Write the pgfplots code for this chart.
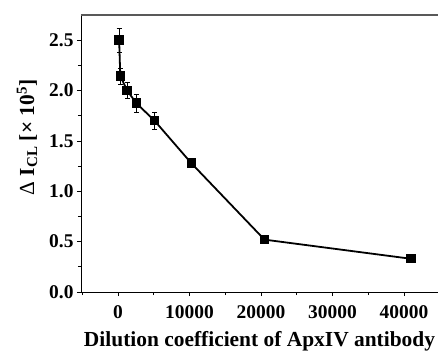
\documentclass[border=0pt]{standalone}
\usepackage{pgfplots}
\pgfplotsset{compat=1.18}
\usepackage{fontspec}
\setmainfont{Liberation Serif}
\begin{document}
\begin{tikzpicture}
\begin{axis}[
  name=ax,
  scale only axis, width=357bp, height=277bp,
  xmin=-5175, xmax=44755, ymin=0, ymax=2.75,
  axis x line=box, axis y line=left,
  axis line style={-, line width=0.8pt},
  xtick={0,10000,20000,30000,40000},
  minor xtick={-5000,5000,15000,25000,35000},
  ytick={0,0.5,1,1.5,2,2.5},
  minor ytick={0.25,0.75,1.25,1.75,2.25},
  xtick pos=bottom, ytick pos=left,
  tick align=outside,
  major tick length=4bp, minor tick length=3bp,
  every tick/.style={black, line width=0.7pt},
  scaled x ticks=false,
  x tick label style={/pgf/number format/1000 sep={}, /pgf/number format/fixed, yshift=-6bp},
  y tick label style={/pgf/number format/fixed, /pgf/number format/fixed zerofill, /pgf/number format/precision=1, xshift=0bp},
  /pgf/number format/assume math mode=true,
  ticklabel style={font=\fontsize{19.5}{21}\selectfont\bfseries},
  xlabel={\fontsize{21.5}{23}\selectfont\bfseries Dilution coefficient of ApxIV antibody},
  xlabel style={yshift=-5.5bp},
  ylabel={\fontsize{21.5}{23}\selectfont Δ \bfseries I\textsubscript{CL} [× 10\textsuperscript{5}]},
  ylabel style={yshift=5bp, xshift=16bp},
  clip=false,
]
\draw[gray!70!black, line width=1.6pt] (rel axis cs:0,1) -- (rel axis cs:1,1);
\addplot[black, line width=1.8pt, mark=square*, mark size=3.8bp,
  error bars/.cd, y dir=both, y explicit,
  error bar style={black, line width=0.5pt},
  error mark options={rotate=90, mark size=2.5bp, line width=0.5pt}]
  coordinates {
  (160,2.50) +- (0,0.12)
  (320,2.145) +- (0,0.08)
  (1280,2.00) +- (0,0.08)
  (2560,1.875) +- (0,0.09)
  (5120,1.70) +- (0,0.08)
  (10240,1.28) +- (0,0.04)
  (20480,0.52) +- (0,0.02)
  (40960,0.33) +- (0,0.02)
  };
\end{axis}
\pgfresetboundingbox
\path[use as bounding box] ([shift={(-81bp,-59bp)}]ax.south west) rectangle ([shift={(0bp,15bp)}]ax.north east);
\end{tikzpicture}
\end{document}
